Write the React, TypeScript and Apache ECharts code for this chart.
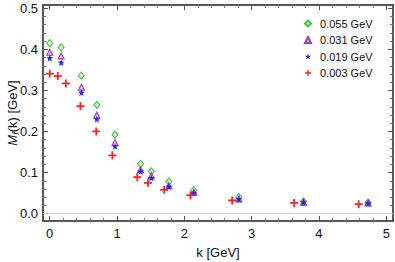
import React, { useEffect, useRef } from "react";
import * as echarts from "echarts";

const seriesNames = ["0.055 GeV", "0.031 GeV", "0.019 GeV", "0.003 GeV"];
const kMain = [0, 0.17, 0.47, 0.70, 0.97, 1.35, 1.51, 1.77, 2.14, 2.81, 3.77, 4.73];
const m055 = [0.415, 0.405, 0.336, 0.265, 0.192, 0.121, 0.103, 0.078, 0.057, 0.040, 0.030, 0.027];
const m031 = [0.393, 0.384, 0.308, 0.240, 0.173, 0.107, 0.092, 0.068, 0.052, 0.036, 0.028, 0.026];
const m019 = [0.379, 0.368, 0.295, 0.230, 0.164, 0.103, 0.087, 0.066, 0.050, 0.035, 0.0276, 0.025];
const kRed = [0, 0.12, 0.24, 0.456, 0.69, 0.93, 1.30, 1.46, 1.70, 2.09, 2.71, 3.63, 4.59];
const m003 = [0.341, 0.335, 0.317, 0.262, 0.200, 0.142, 0.089, 0.075, 0.058, 0.045, 0.032, 0.026, 0.023];

const STAR = "path://M0,-10 L2.35,-3.24 L9.51,-3.09 L3.8,1.24 L5.88,8.09 L0,4 L-5.88,8.09 L-3.8,1.24 L-9.51,-3.09 L-2.35,-3.24 Z";
const PLUS = "path://M-1.1,-5 H1.1 V-1.1 H5 V1.1 H1.1 V5 H-1.1 V1.1 H-5 V-1.1 H-1.1 Z";

const FONT = "Liberation Sans";

export default function App() {
  const ref = useRef<HTMLDivElement>(null);
  useEffect(() => {
    if (!ref.current) return;
    const chart = echarts.init(ref.current, null, { renderer: "svg" });
    const zip = (xs: number[], ys: number[]) => xs.map((x, i) => [x, ys[i]]);
    const axisCommon = {
      min: -0.1,
      max: 5.1,
      splitNumber: 5,
      axisLine: { show: true, onZero: false, lineStyle: { color: "#222", width: 1.5 } },
      axisTick: { show: true, inside: true, length: 5, lineStyle: { color: "#555" } },
      minorTick: { show: true, splitNumber: 5, length: 3, lineStyle: { color: "#777" } },
      splitLine: { show: false },
    };
    const yCommon = {
      min: -0.018,
      max: 0.508,
      splitNumber: 5,
      axisLine: { show: true, onZero: false, lineStyle: { color: "#222", width: 1.5 } },
      axisTick: { show: true, inside: true, length: 5, lineStyle: { color: "#555" } },
      minorTick: { show: true, splitNumber: 5, length: 3, lineStyle: { color: "#777" } },
      splitLine: { show: false },
    };
    chart.setOption({
      animation: false,
      textStyle: { fontFamily: FONT },
      grid: { left: 43, right: 2, top: 5, bottom: 41, containLabel: false, outerBoundsMode: "none" },
      legend: {
        orient: "vertical",
        left: 299,
        top: 12.5,
        itemWidth: 6,
        itemHeight: 6,
        itemGap: 4.5,
        data: seriesNames,
        textStyle: { fontFamily: FONT, fontSize: 11, color: "#111", lineHeight: 12, padding: [0, 0, 0, 4] },
      },
      xAxis: [
        {
          ...axisCommon,
          type: "value",
          position: "bottom",
          name: "k [GeV]",
          nameLocation: "middle",
          nameGap: 25,
          nameMoveOverlap: false,
          nameTextStyle: { fontFamily: FONT, fontSize: 13, color: "#111" },
          axisLabel: { fontFamily: FONT, fontSize: 13, color: "#111", margin: 6, showMinLabel: false, showMaxLabel: false },
        },
        {
          ...axisCommon,
          type: "value",
          position: "top",
          axisLabel: { show: false },
        },
      ],
      yAxis: [
        {
          ...yCommon,
          type: "value",
          position: "left",
          name: "{it|M}{sub|f}{n|(k) [GeV]}",
          nameLocation: "middle",
          nameGap: 23,
          nameMoveOverlap: false,
          nameRotate: 90,
          nameTextStyle: {
            fontFamily: FONT,
            fontSize: 13,
            color: "#111",
            rich: {
              it: { fontFamily: FONT, fontSize: 13, fontStyle: "italic", color: "#111" },
              sub: { fontFamily: FONT, fontSize: 9, fontStyle: "italic", color: "#111", padding: [6, 0, 0, 0] },
              n: { fontFamily: FONT, fontSize: 13, color: "#111" },
            },
          },
          axisLabel: {
            fontFamily: FONT,
            fontSize: 13,
            color: "#111",
            margin: 5,
            showMinLabel: false,
            showMaxLabel: false,
            formatter: (v: number) => v.toFixed(1),
          },
        },
        {
          ...yCommon,
          type: "value",
          position: "right",
          axisLabel: { show: false },
        },
      ],
      series: [
        {
          name: seriesNames[0],
          type: "scatter",
          symbol: "diamond",
          symbolSize: [6, 7],
          itemStyle: { color: "rgba(200,240,200,0.6)", borderColor: "#3cc83c", borderWidth: 1.1, opacity: 1 },
          data: zip(kMain, m055),
          z: 2,
          markLine: {
            silent: true,
            symbol: "none",
            label: { show: false },
            lineStyle: { color: "#d0d0d0", type: "solid", width: 1 },
            data: [{ yAxis: 0 }],
          },
        },
        {
          name: seriesNames[1],
          type: "scatter",
          symbol: "triangle",
          symbolSize: 6,
          itemStyle: { color: "rgba(220,170,230,0.7)", borderColor: "#a040b0", borderWidth: 1.1, opacity: 1 },
          data: zip(kMain, m031),
          z: 3,
        },
        {
          name: seriesNames[2],
          type: "scatter",
          symbol: STAR,
          symbolSize: 7,
          itemStyle: { color: "#2020ff", opacity: 1 },
          data: zip(kMain, m019),
          z: 4,
        },
        {
          name: seriesNames[3],
          type: "scatter",
          symbol: PLUS,
          symbolSize: 8,
          itemStyle: { color: "#ff2020", opacity: 1 },
          data: zip(kRed, m003),
          z: 5,
        },
      ],
    });
    return () => chart.dispose();
  }, []);
  return <div ref={ref} style={{ width: 395, height: 262, position: "absolute", left: 0, top: 0 }} />;
}
